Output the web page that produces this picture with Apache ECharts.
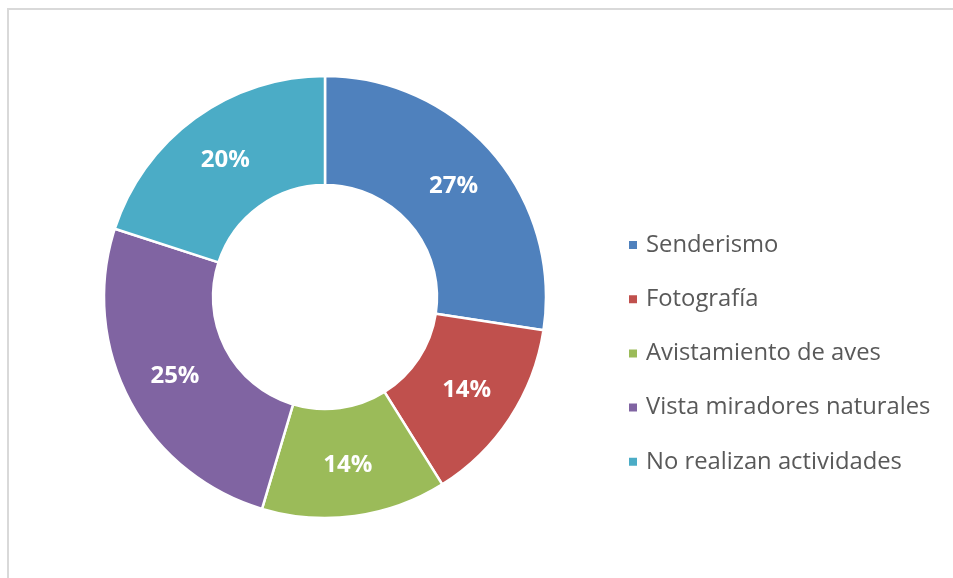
<!DOCTYPE html>
<html><head><meta charset="utf-8">
<script src="https://cdn.jsdelivr.net/npm/echarts@6/dist/echarts.min.js"></script>
<style>html,body{margin:0;padding:0;background:#fff}#c{width:953px;height:578px}</style>
</head><body><div id="c"></div>
<script>
const categories = ["Senderismo", "Fotografía", "Avistamiento de aves", "Vista miradores naturales", "No realizan actividades"];
const values = [27.4, 13.7, 13.5, 25.4, 20.0];
const colors = ["#4f81bd", "#c0504d", "#9bbb59", "#8064a2", "#4bacc6"];

const chart = echarts.init(document.getElementById('c'), null, {renderer: 'canvas'});
chart.setOption({
  animation: false,
  graphic: [{type: 'rect', shape: {x: 8, y: 9, width: 1200, height: 1000}, style: {fill: 'none', stroke: '#d9d9d9', lineWidth: 2}}],
  legend: {
    orient: 'vertical', left: 622, top: 228,
    itemWidth: 10, itemHeight: 10, itemGap: 30.2,
    icon: 'rect',
    textStyle: {fontFamily: 'Open Sans', fontSize: 23.8, color: '#595959', lineHeight: 24, padding: [0, 0, 0, 3]},
    data: categories
  },
  series: [{
    type: 'pie', center: [325, 297], radius: [112, 221],
    startAngle: 90, clockwise: true,
    itemStyle: {borderColor: '#fff', borderWidth: 2.5},
    label: {position: 'inside', formatter: p => Math.round(p.percent) + '%', color: '#fff', fontFamily: 'Open Sans', fontSize: 24, fontWeight: 'bold', padding: [7, 0, 0, 0]},
    labelLine: {show: false},
    data: categories.map((n, i) => ({name: n, value: values[i], itemStyle: {color: colors[i]}}))
  }]
});
</script></body></html>
